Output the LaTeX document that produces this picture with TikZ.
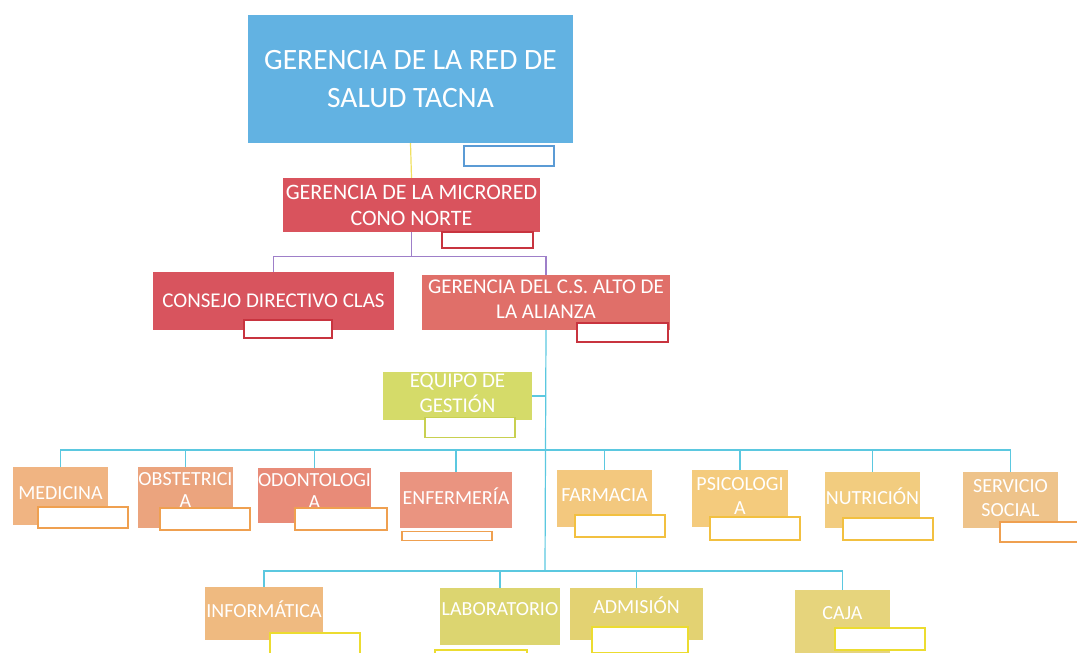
\documentclass[tikz,border=0pt]{standalone}
\usepackage{fontspec}
\setmainfont{Carlito}
\usetikzlibrary{positioning}

\definecolor{cBlue}{HTML}{62B2E2}
\definecolor{cMicro}{HTML}{D9535D}
\definecolor{cClas}{HTML}{D8545E}
\definecolor{cCS}{HTML}{E06F69}
\definecolor{cEq}{HTML}{D5DB69}
\definecolor{cMed}{HTML}{F0B482}
\definecolor{cObs}{HTML}{EBA47E}
\definecolor{cOdo}{HTML}{E88B78}
\definecolor{cEnf}{HTML}{EA9480}
\definecolor{cFar}{HTML}{F3C87E}
\definecolor{cPsi}{HTML}{F4CB7D}
\definecolor{cNut}{HTML}{F2CC7F}
\definecolor{cSoc}{HTML}{EEC38A}
\definecolor{cInf}{HTML}{EFBA80}
\definecolor{cLab}{HTML}{DCD570}
\definecolor{cAdm}{HTML}{E3D272}
\definecolor{cCaja}{HTML}{E6D47C}
\definecolor{tBlue}{HTML}{5B9BD5}
\definecolor{tRed}{HTML}{C8343F}
\definecolor{tGreen}{HTML}{C8D050}
\definecolor{tOrange}{HTML}{EFA050}
\definecolor{tYellow}{HTML}{F2C040}
\definecolor{tLime}{HTML}{ECDC30}
\definecolor{lYellow}{HTML}{F0E060}
\definecolor{lPurple}{HTML}{9E7FC9}
\definecolor{lCyan}{HTML}{5BC8E0}

\begin{document}
\begin{tikzpicture}[x=1pt, y=-1pt,
    box/.style={fill=#1, text=white, align=center, inner sep=0pt, font=\fontsize{20}{24}\selectfont},
    up/.style={text depth=#1},
    tab/.style={draw=#1, fill=white, line width=1.5pt, minimum width=90pt, minimum height=20pt, inner sep=0pt},
    link/.style={draw=#1, line width=1.2pt}]
    \useasboundingbox (0,0) rectangle (1077,653);

    % Boxes
    \node[box=cBlue, minimum width=325pt, minimum height=128pt, font=\fontsize{29.5}{38}\selectfont] (red) at (410.5,79) {GERENCIA DE LA RED DE\\SALUD TACNA};
    \node[box=cMicro, minimum width=257pt, minimum height=54pt, font=\fontsize{22}{26}\selectfont] (micro) at (411.5,205) {GERENCIA DE LA MICRORED\\CONO NORTE};
    \node[box=cClas, minimum width=241pt, minimum height=58pt, font=\fontsize{21}{25}\selectfont] (clas) at (273.5,301) {CONSEJO DIRECTIVO CLAS};
    \node[box=cCS, up=6pt, minimum width=248pt, minimum height=55pt, font=\fontsize{21}{25}\selectfont] (cs) at (546,302.5) {GERENCIA DEL C.S. ALTO DE\\LA ALIANZA};
    \node[box=cEq, up=6pt, minimum width=149pt, minimum height=48pt, font=\fontsize{21}{25}\selectfont] (equipo) at (457.5,396) {EQUIPO DE\\GESTIÓN};

    \node[box=cMed, up=6pt, minimum width=95pt, minimum height=58pt] (med) at (60.5,496) {MEDICINA};
    \node[box=cObs, up=14pt, minimum width=95pt, minimum height=61pt, font=\fontsize{20}{22}\selectfont] (obs) at (185.5,497.5) {OBSTETRICI\\A};
    \node[box=cOdo, up=8pt, minimum width=107pt, minimum height=55pt, font=\fontsize{20}{22}\selectfont] (odo) at (314.5,495.5) {ODONTOLOGI\\A};
    \node[box=cEnf, up=8pt, minimum width=112pt, minimum height=56pt] (enf) at (456,500) {ENFERMERÍA};
    \node[box=cFar, up=6pt, minimum width=95pt, minimum height=57pt] (far) at (604.5,498.5) {FARMACIA};
    \node[box=cPsi, up=4pt, minimum width=96pt, minimum height=57pt] (psi) at (740,498.5) {PSICOLOGI\\A};
    \node[box=cNut, up=8pt, minimum width=95pt, minimum height=56pt] (nut) at (872.5,500) {NUTRICIÓN};
    \node[box=cSoc, up=4pt, minimum width=95pt, minimum height=56pt] (soc) at (1010.5,500) {SERVICIO\\SOCIAL};

    \node[box=cInf, up=8pt, minimum width=118pt, minimum height=53pt] (inf) at (264,613.5) {INFORMÁTICA};
    \node[box=cLab, up=14pt, minimum width=120pt, minimum height=57pt] (lab) at (500,616.5) {LABORATORIO};
    \node[box=cAdm, up=18pt, minimum width=133pt, minimum height=52pt] (adm) at (636.5,614) {ADMISIÓN};
    \node[box=cCaja, up=16pt, minimum width=95pt, minimum height=63pt] (caja) at (842.5,621.5) {CAJA};

    % Lines
    \coordinate (j1) at ([yshift=-24pt]micro.south);
    \coordinate (j2) at (545,450);
    \coordinate (j3) at (545,571);
    \draw[link=lYellow] (red.south) -- (micro.north);
    \draw[link=lPurple] (micro.south) -- (j1) -| (clas.north)
                        (j1) -| (cs.north);
    \draw[link=lCyan] (cs.south) -- (j3);
    \draw[link=lCyan] (equipo.east) -- (equipo.east -| j2);
    \foreach \n in {med,obs,odo,enf,far,psi,nut,soc}
        \draw[link=lCyan] (j2) -| (\n.north);
    \foreach \n in {inf,lab,adm,caja}
        \draw[link=lCyan] (j3) -| (\n.north);

    % Tabs
    \node[tab=tBlue] (redT) at (509,156) {};
    \node[tab=tRed, minimum width=91pt, minimum height=16pt] (microT) at (487.5,240) {};
    \node[tab=tRed, minimum width=88pt, minimum height=18pt] (clasT) at (288,329) {};
    \node[tab=tRed, minimum width=91pt, minimum height=19pt] (csT) at (622.5,332.5) {};
    \node[tab=tGreen] (equipoT) at (470,427.5) {};
    \node[tab=tOrange, minimum height=21pt] (medT) at (83,517.5) {};
    \node[tab=tOrange, minimum height=22pt] (obsT) at (205,519) {};
    \node[tab=tOrange, minimum width=92pt, minimum height=22pt] (odoT) at (341,519) {};
    \node[tab=tOrange, minimum height=9pt] (enfT) at (447,536) {};
    \node[tab=tYellow, minimum height=22pt] (farT) at (620,526) {};
    \node[tab=tYellow, minimum height=23pt] (psiT) at (755,528.5) {};
    \node[tab=tYellow, minimum height=22pt] (nutT) at (888,529) {};
    \node[tab=tOrange] (socT) at (1045,532) {};
    \node[tab=tLime, minimum height=24pt] (infT) at (315,645) {};
    \node[tab=tLime, minimum width=92pt] (labT) at (481,660) {};
    \node[tab=tLime, minimum width=96pt, minimum height=26pt] (admT) at (640,640) {};
    \node[tab=tLime, minimum height=22pt] (cajaT) at (880,639) {};
\end{tikzpicture}
\end{document}
